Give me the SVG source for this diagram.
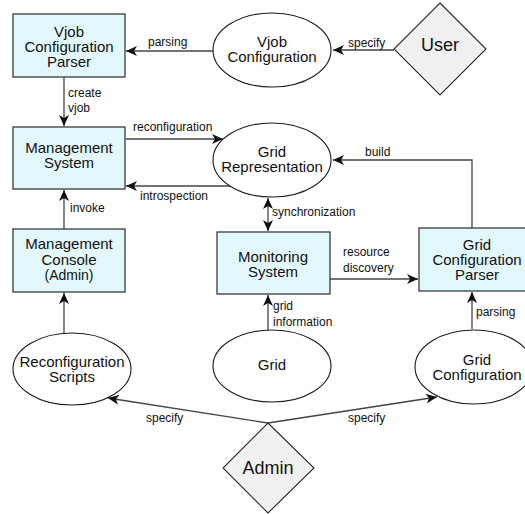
<svg xmlns="http://www.w3.org/2000/svg" width="525" height="514" viewBox="0 0 525 514">
<style>
.box{fill:#e3f8fc;stroke:#3a3a3a;stroke-width:1.3}
.ell{fill:#ffffff;stroke:#1a1a1a;stroke-width:1.1}
.dia{fill:#f0f0f0;stroke:#2a2a2a;stroke-width:1.1}
.t{font-family:"Liberation Sans",Arial,sans-serif;font-size:15px;fill:#111;text-anchor:middle}
.ts{font-family:"Liberation Sans",Arial,sans-serif;font-size:14px;fill:#111;text-anchor:middle}
.tb{font-family:"Liberation Sans",Arial,sans-serif;font-size:18px;fill:#111;text-anchor:middle}
.l{font-family:"Liberation Sans",Arial,sans-serif;font-size:12px;fill:#111}
.c{fill:none;stroke:#444;stroke-width:1.3}
</style>
<defs>
<marker id="a" markerWidth="12" markerHeight="10" refX="11" refY="5" orient="auto" markerUnits="userSpaceOnUse">
<path d="M0,0 L11,5 L0,10 L3,5 z" fill="#111"/>
</marker>
<marker id="s" markerWidth="12" markerHeight="10" refX="1" refY="5" orient="auto" markerUnits="userSpaceOnUse">
<path d="M12,0 L1,5 L12,10 L9,5 z" fill="#111"/>
</marker>
</defs>
<rect width="525" height="514" fill="#ffffff"/>
<g id="connectors">
<path class="c" d="M213,51 L126,51" marker-end="url(#a)"/>
<path class="c" d="M394,50 L333,50" marker-end="url(#a)"/>
<path class="c" d="M64,77 L64,126" marker-end="url(#a)"/>
<path class="c" d="M126,139 L223,139" marker-end="url(#a)"/>
<path class="c" d="M230,186 L126,186" marker-end="url(#a)"/>
<path class="c" d="M472,228 L472,160 L333,160" marker-end="url(#a)"/>
<path class="c" d="M64,229 L64,190" marker-end="url(#a)"/>
<path class="c" d="M64,333 L64,293" marker-end="url(#a)"/>
<path class="c" d="M268,198 L268,231" marker-start="url(#s)" marker-end="url(#a)"/>
<path class="c" d="M268,330 L268,295" marker-end="url(#a)"/>
<path class="c" d="M330,279 L418,279" marker-end="url(#a)"/>
<path class="c" d="M472,329 L472,292" marker-end="url(#a)"/>
<path class="c" d="M268,423 L108,398" marker-end="url(#a)"/>
<path class="c" d="M268,423 L437,397" marker-end="url(#a)"/>
<text class="l" x="148" y="46">parsing</text>
<text class="l" x="348" y="47">specify</text>
<text class="l" x="68" y="97">create</text>
<text class="l" x="68" y="112">vjob</text>
<text class="l" x="133" y="131">reconfiguration</text>
<text class="l" x="140" y="200">introspection</text>
<text class="l" x="365" y="156">build</text>
<text class="l" x="70" y="212">invoke</text>
<text class="l" x="272" y="216">synchronization</text>
<text class="l" x="273" y="310">grid</text>
<text class="l" x="273" y="326">information</text>
<text class="l" x="343" y="256">resource</text>
<text class="l" x="343" y="272">discovery</text>
<text class="l" x="476" y="316">parsing</text>
<text class="l" x="146" y="422">specify</text>
<text class="l" x="348" y="422">specify</text>
</g>
<g id="vjob-parser">
<rect class="box" x="13" y="14" width="112" height="63"/>
<text class="t" x="69" y="37">Vjob</text>
<text class="t" x="69" y="52">Configuration</text>
<text class="t" x="69" y="67">Parser</text>
</g>
<g id="vjob-config">
<ellipse class="ell" cx="272" cy="50" rx="59" ry="37"/>
<text class="t" x="272" y="47">Vjob</text>
<text class="t" x="272" y="62">Configuration</text>
</g>
<g id="user">
<polygon class="dia" points="440,3 486,49 440,95 394,49"/>
<text class="tb" x="440" y="51">User</text>
</g>
<g id="management-system">
<rect class="box" x="13" y="127" width="112" height="62"/>
<text class="t" x="69" y="153">Management</text>
<text class="t" x="69" y="168">System</text>
</g>
<g id="grid-representation">
<ellipse class="ell" cx="272" cy="160" rx="59" ry="37"/>
<text class="t" x="272" y="157">Grid</text>
<text class="t" x="272" y="172">Representation</text>
</g>
<g id="management-console">
<rect class="box" x="13" y="229" width="112" height="63"/>
<text class="t" x="69" y="249">Management</text>
<text class="t" x="69" y="265">Console</text>
<text class="ts" x="69" y="280">(Admin)</text>
</g>
<g id="monitoring-system">
<rect class="box" x="217" y="232" width="113" height="62"/>
<text class="t" x="273" y="262">Monitoring</text>
<text class="t" x="273" y="277">System</text>
</g>
<g id="grid-config-parser">
<rect class="box" x="419" y="228" width="114" height="63"/>
<text class="t" x="477" y="250">Grid</text>
<text class="t" x="477" y="265">Configuration</text>
<text class="t" x="477" y="280">Parser</text>
</g>
<g id="reconfiguration-scripts">
<ellipse class="ell" cx="72" cy="369" rx="59" ry="36"/>
<text class="t" x="72" y="367">Reconfiguration</text>
<text class="t" x="72" y="382">Scripts</text>
</g>
<g id="grid">
<ellipse class="ell" cx="272" cy="366" rx="59" ry="36"/>
<text class="t" x="272" y="370">Grid</text>
</g>
<g id="grid-configuration">
<ellipse class="ell" cx="474" cy="367" rx="59" ry="37"/>
<text class="t" x="477" y="365">Grid</text>
<text class="t" x="477" y="380">Configuration</text>
</g>
<g id="admin">
<polygon class="dia" points="268,423 314,468 268,513 223,468"/>
<text class="tb" x="268" y="474">Admin</text>
</g>
</svg>
